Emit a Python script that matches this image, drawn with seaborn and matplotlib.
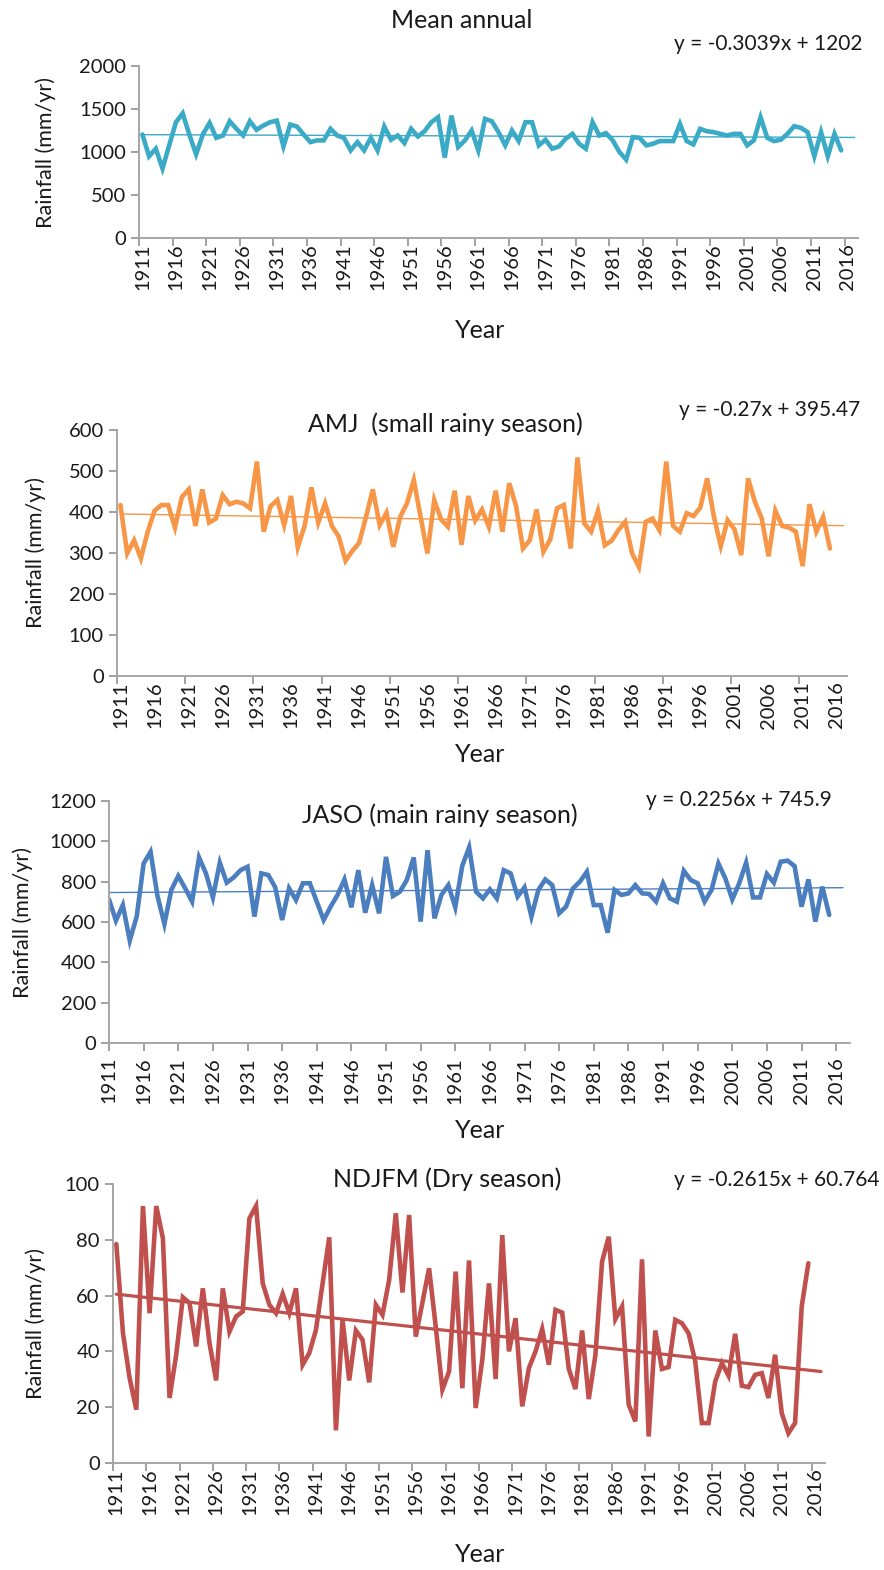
import numpy as np
import pandas as pd
import matplotlib
matplotlib.use("Agg")
import matplotlib.pyplot as plt
import seaborn as sns

# values, one per year 1911-2015
years = list(range(1911, 2016))

mean_annual = [1204, 950, 1038, 808, 1080, 1346, 1450, 1200, 973, 1204,
               1338, 1165, 1192, 1358, 1269, 1192, 1358, 1258, 1308, 1346,
               1365, 1065, 1319, 1296, 1204, 1115, 1135, 1135, 1269, 1192,
               1165, 1019, 1115, 1019, 1165, 1019, 1296, 1142, 1192, 1104,
               1269, 1181, 1242, 1346, 1404, 935, 1423, 1058, 1135, 1250,
               1019, 1385, 1358, 1231, 1077, 1250, 1127, 1346, 1346, 1077,
               1142, 1038, 1065, 1154, 1211, 1096, 1038, 1346, 1192, 1219,
               1135, 1000, 911, 1173, 1165, 1077, 1096, 1127, 1127, 1127,
               1327, 1127, 1088, 1269, 1242, 1231, 1211, 1192, 1211, 1211,
               1077, 1135, 1404, 1165, 1127, 1142, 1211, 1300, 1281, 1231,
               950, 1231, 950, 1211, 1019]

amj = [417, 299, 331, 287, 352, 403, 417, 417, 362, 436,
       455, 366, 455, 374, 384, 441, 419, 425, 421, 409,
       523, 352, 414, 429, 368, 439, 314, 366, 460, 374,
       421, 366, 340, 281, 305, 325, 388, 455, 368, 398,
       315, 388, 421, 478, 388, 299, 429, 382, 364, 452,
       320, 439, 379, 406, 364, 452, 352, 470, 414, 311,
       331, 406, 303, 333, 409, 417, 311, 533, 372, 352,
       403, 319, 330, 356, 376, 299, 266, 376, 384, 356,
       523, 366, 352, 397, 390, 411, 482, 388, 317, 380,
       358, 295, 482, 425, 384, 292, 403, 366, 362, 352,
       268, 419, 352, 388, 311]

jaso = [712, 607, 684, 508, 627, 890, 948, 729, 590, 759,
        828, 767, 701, 920, 841, 722, 894, 795, 821, 857,
        874, 627, 841, 833, 772, 610, 767, 709, 792, 792,
        701, 610, 676, 734, 811, 673, 857, 646, 783, 643,
        923, 729, 750, 808, 920, 602, 956, 618, 734, 783,
        673, 877, 970, 750, 717, 762, 717, 857, 841, 726,
        772, 627, 759, 811, 783, 643, 676, 767, 800, 849,
        684, 684, 547, 759, 734, 742, 783, 742, 739, 701,
        792, 717, 701, 854, 808, 792, 701, 759, 890, 816,
        712, 792, 894, 722, 722, 838, 795, 899, 904, 877,
        676, 811, 602, 775, 635]

ndjfm = [78.5, 46.5, 30.4, 19.1, 92.1, 53.7, 92.1, 80.5, 23.3, 38.8,
         59.4, 57.3, 41.8, 62.6, 43.0, 29.6, 62.6, 47.1, 52.5, 54.3,
         87.7, 92.1, 64.4, 56.7, 53.7, 60.6, 53.7, 62.6, 35.2, 39.4,
         47.7, 64.4, 80.9, 11.7, 51.3, 29.6, 47.5, 44.2, 28.9, 56.7,
         53.1, 65.6, 89.5, 61.1, 88.9, 45.3, 57.5, 69.8, 48.9, 26.3,
         32.8, 68.6, 26.8, 72.6, 19.7, 37.0, 64.4, 30.1, 81.7, 40.0,
         51.9, 20.3, 34.0, 40.0, 48.0, 35.2, 54.9, 53.9, 33.7, 26.5,
         47.5, 22.9, 38.8, 72.2, 81.1, 51.6, 56.1, 20.9, 14.9, 73.0,
         9.5, 47.5, 33.7, 34.4, 51.3, 50.1, 46.5, 36.4, 14.3, 14.3,
         29.2, 35.8, 31.3, 46.3, 27.7, 27.2, 31.6, 32.2, 23.3, 38.8,
         17.9, 10.7, 14.3, 56.1, 71.6]

# Excel trendline equations printed on the chart (x = 1, 2, ... per year)
trend_slopes = [-0.3039, -0.27, 0.2256, -0.2615]
trend_icepts = [1202, 395.47, 745.9, 60.764]
trend_texts = ["y = -0.3039x + 1202", "y = -0.27x + 395.47",
               "y = 0.2256x + 745.9", "y = -0.2615x + 60.764"]

titles = ["Mean annual", "AMJ  (small rainy season)",
          "JASO (main rainy season)", "NDJFM (Dry season)"]
colors = ["#3BAAC7", "#F79646", "#4A7EBF", "#C0504D"]
y_max = [2000, 600, 1200, 100]
y_step = [500, 100, 200, 20]
tick_labels = [str(y) for y in range(1911, 2017, 5)]

sns.set_style("ticks")
plt.rcParams['font.family'] = ['Lato', 'DejaVu Sans']

W, H = 884, 1570
fig = plt.figure(figsize=(W / 100, H / 100), dpi=100)


def box(l, t, r, b):
    return [l / W, 1 - b / H, (r - l) / W, (b - t) / H]


# pixel boxes of the four plot areas
boxes = [(139, 66, 858, 238), (117, 430, 847, 676),
         (109, 801, 850, 1043), (113, 1184, 825, 1463)]
ylabel_x = [56, 46, 33, 46]
title_pos = [(462, 20), (445, 424), (440, 815), (447, 1179)]
eq_pos = [(862, 44), (860, 410), (832, 800), (880, 1180)]
year_y = [330, 755, 1130, 1555]
trend_w = [1.0, 1.0, 1.0, 2.3]

series = [mean_annual, amj, jaso, ndjfm]

for k in range(4):
    l, t, r, b = boxes[k]
    ax = fig.add_axes(box(l, t, r, b))
    df = pd.DataFrame({"year": years, "rain": series[k]})
    sns.lineplot(data=df, x="year", y="rain", ax=ax, color=colors[k],
                 linewidth=3.3, solid_joinstyle="miter")

    # trendline from the printed equation, running to 2017 like in the chart
    tx = np.array([1, 107])
    trend = pd.DataFrame({"year": tx + 1910,
                          "rain": trend_slopes[k] * tx + trend_icepts[k]})
    if k == 3:
        trend["year"] = [1911, 2016.9]
    sns.lineplot(data=trend, x="year", y="rain", ax=ax, color=colors[k],
                 linewidth=trend_w[k])

    ax.set_ylim(0, y_max[k])
    ax.set_yticks(np.arange(0, y_max[k] + 1, y_step[k]))
    label_pos = list(range(1911, 2017, 5))
    if k == 2:
        # points sit on the tick marks
        ax.set_xlim(1911, 2018)
        ax.set_xticks(label_pos)
        ax.tick_params(axis="x", which="major", length=6)
    else:
        ax.set_xlim(1910.5, 2017.5)
        ax.set_xticks(label_pos)
        ax.tick_params(axis="x", which="major", length=0)
        if k == 1:
            marks = np.arange(1910.5, 2016, 10)
        else:
            marks = np.arange(1910.5, 2016, 5)
        ax.set_xticks(marks, minor=True)
        ax.tick_params(axis="x", which="minor", length=6, width=1.3,
                       color="#999999")
    ax.set_xticklabels(tick_labels, rotation=90)
    ax.tick_params(axis="both", labelsize=14.5, colors="#999999",
                   labelcolor="#1a1a1a", width=1.3)
    ax.tick_params(axis="y", length=6)
    ax.tick_params(axis="x", pad=4)
    sns.despine(ax=ax)
    for s in ["left", "bottom"]:
        ax.spines[s].set_color("#A6A6A6")
        ax.spines[s].set_linewidth(1.4)

    ax.set_xlabel("")
    ax.set_ylabel("Rainfall (mm/yr)", fontsize=15.5, color="#1a1a1a")
    ax.yaxis.set_label_coords((ylabel_x[k] - l) / (r - l), 0.5)

    fig.text(title_pos[k][0] / W, 1 - title_pos[k][1] / H, titles[k],
             ha="center", va="center", fontsize=18, color="#1a1a1a")
    fig.text(eq_pos[k][0] / W, 1 - eq_pos[k][1] / H, trend_texts[k],
             ha="right", va="center", fontsize=15, color="#1a1a1a")
    fig.text(480 / W, 1 - year_y[k] / H, "Year", ha="center", va="center",
             fontsize=18, color="#1a1a1a")

fig.savefig("out.png", dpi=100)
